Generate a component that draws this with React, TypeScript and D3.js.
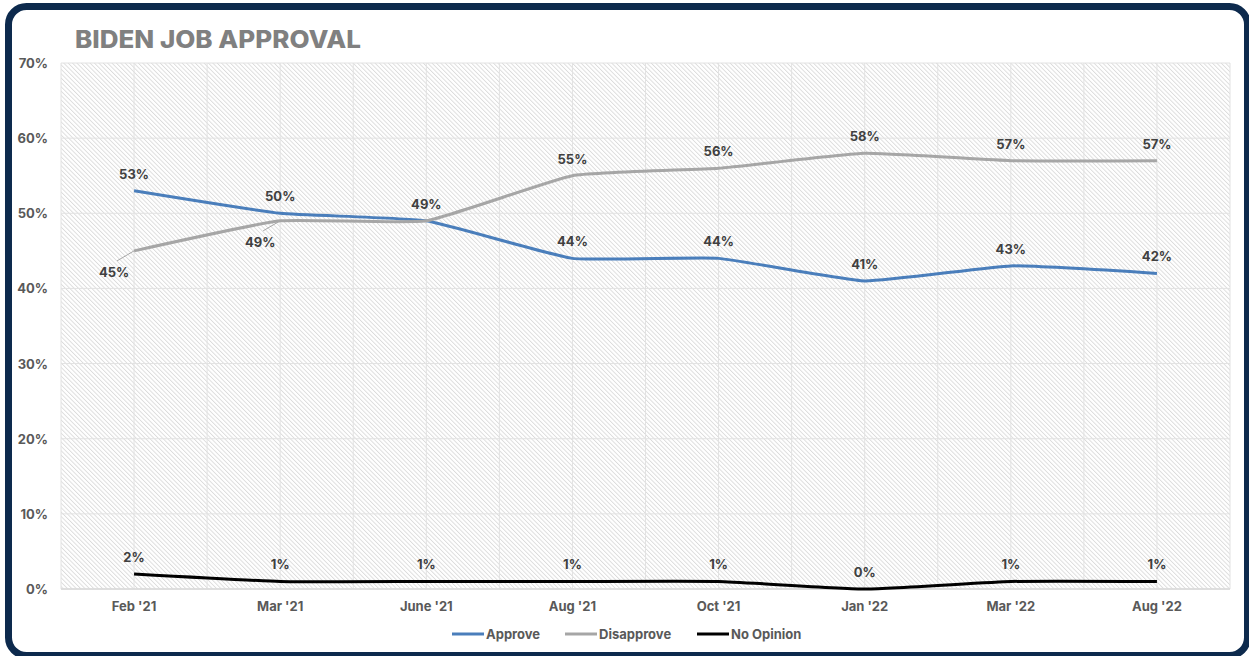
import * as d3 from 'd3'

const categories = ["Feb '21", "Mar '21", "June '21", "Aug '21", "Oct '21", "Jan '22", "Mar '22", "Aug '22"]
const approve = [53, 50, 49, 44, 44, 41, 43, 42]
const disapprove = [45, 49, 49, 55, 56, 58, 57, 57]
const noOpinion = [2, 1, 1, 1, 1, 0, 1, 1]
const yTicks = [0, 10, 20, 30, 40, 50, 60, 70]

// where each label sits relative to its point
const approveLabelPos = ['above', 'above', 'none', 'above', 'above', 'above', 'above', 'above']
const disapproveLabelPos = ['leader', 'leader', 'above', 'above', 'above', 'above', 'above', 'above']

const W = 1249
const H = 656
const margin = { left: 61, right: 1230, top: 63, bottom: 589 }

const series = [
  { name: 'Approve', values: approve, color: '#4a7ebb', pos: approveLabelPos },
  { name: 'Disapprove', values: disapprove, color: '#a6a6a6', pos: disapproveLabelPos },
  { name: 'No Opinion', values: noOpinion, color: '#000000', pos: noOpinion.map(() => 'above') },
]

const font = 'Inter, "Open Sans", sans-serif'

const App = () => {
  const x = d3.scaleBand<string>().domain(categories).range([margin.left, margin.right])
  const y = d3.scaleLinear().domain([0, 70]).range([margin.bottom, margin.top])
  const bw = x.bandwidth()
  const cx = (c: string) => (x(c) as number) + bw / 2

  // Excel-style light smoothing
  const line = d3
    .line<number>()
    .x((_, i) => cx(categories[i]))
    .y((d) => y(d))
    .curve(d3.curveCardinal.tension(0.6))

  const vLines: number[] = []
  categories.forEach((c) => {
    vLines.push(x(c) as number, cx(c))
  })
  vLines.push(margin.right)

  const legendItems = [
    { name: 'Approve', color: '#4a7ebb', x: 452 },
    { name: 'Disapprove', color: '#a6a6a6', x: 565 },
    { name: 'No Opinion', color: '#000000', x: 697 },
  ]

  return (
    <svg width={W} height={H} style={{ position: 'absolute', left: 0, top: 0 }} fontFamily={font}>
      <defs>
        <pattern id="hatch" patternUnits="userSpaceOnUse" width={3.1} height={3.1} patternTransform="rotate(-45)">
          <line x1={0.5} y1={0} x2={0.5} y2={3.1} stroke="#d6d6d6" strokeWidth={0.8} />
        </pattern>
      </defs>
      <rect x={0} y={0} width={W} height={H} fill="#fff" />
      <rect x={8.5} y={6.5} width={1239} height={649} rx={18} fill="#fff" stroke="#0d2a4d" strokeWidth={7} />

      <text x={75} y={48} fontSize={24} fontWeight={800} fill="#808080" textLength={286} lengthAdjust="spacingAndGlyphs">
        BIDEN JOB APPROVAL
      </text>

      {/* plot area */}
      <rect x={margin.left} y={margin.top} width={margin.right - margin.left} height={margin.bottom - margin.top} fill="url(#hatch)" />
      {yTicks.map((t) => (
        <line key={'h' + t} x1={margin.left} x2={margin.right} y1={y(t)} y2={y(t)} stroke="#e2e2e2" strokeWidth={1} />
      ))}
      {vLines.map((v, i) => (
        <line key={'v' + i} x1={v} x2={v} y1={margin.top} y2={margin.bottom} stroke="#e2e2e2" strokeWidth={1} />
      ))}
      <line x1={margin.left} x2={margin.right} y1={margin.bottom} y2={margin.bottom} stroke="#d9d9d9" strokeWidth={1.5} />

      {yTicks.map((t) => (
        <text key={'yt' + t} x={48} y={y(t)} textAnchor="end" dominantBaseline="central" fontSize={13} fontWeight={700} fill="#595959">
          {t}%
        </text>
      ))}
      {categories.map((c) => (
        <text key={'xt' + c} x={cx(c)} y={606} textAnchor="middle" dominantBaseline="central" fontSize={13} fontWeight={700} fill="#595959">
          {c}
        </text>
      ))}

      {series.map((s) => (
        <path key={s.name} d={line(s.values) as string} fill="none" stroke={s.color} strokeWidth={3} />
      ))}

      {series.map((s) =>
        s.values.map((v, i) => {
          const px = cx(categories[i])
          const py = y(v)
          const pos = s.pos[i]
          if (pos === 'none') return null
          if (pos === 'leader') {
            return (
              <g key={s.name + i}>
                <line x1={px} y1={py} x2={px - 17} y2={py + 10} stroke={s.color} strokeWidth={1} />
                <text x={px - 20} y={py + 21} textAnchor="middle" dominantBaseline="central" fontSize={13} fontWeight={700} fill="#404040">
                  {v}%
                </text>
              </g>
            )
          }
          return (
            <text key={s.name + i} x={px} y={py - 17} textAnchor="middle" dominantBaseline="central" fontSize={13} fontWeight={700} fill="#404040">
              {v}%
            </text>
          )
        })
      )}

      {legendItems.map((l) => (
        <g key={l.name}>
          <line x1={l.x} x2={l.x + 32} y1={634} y2={634} stroke={l.color} strokeWidth={3} />
          <text x={l.x + 34} y={634} dominantBaseline="central" fontSize={13} fontWeight={700} fill="#595959">
            {l.name}
          </text>
        </g>
      ))}
    </svg>
  )
}

export default App
